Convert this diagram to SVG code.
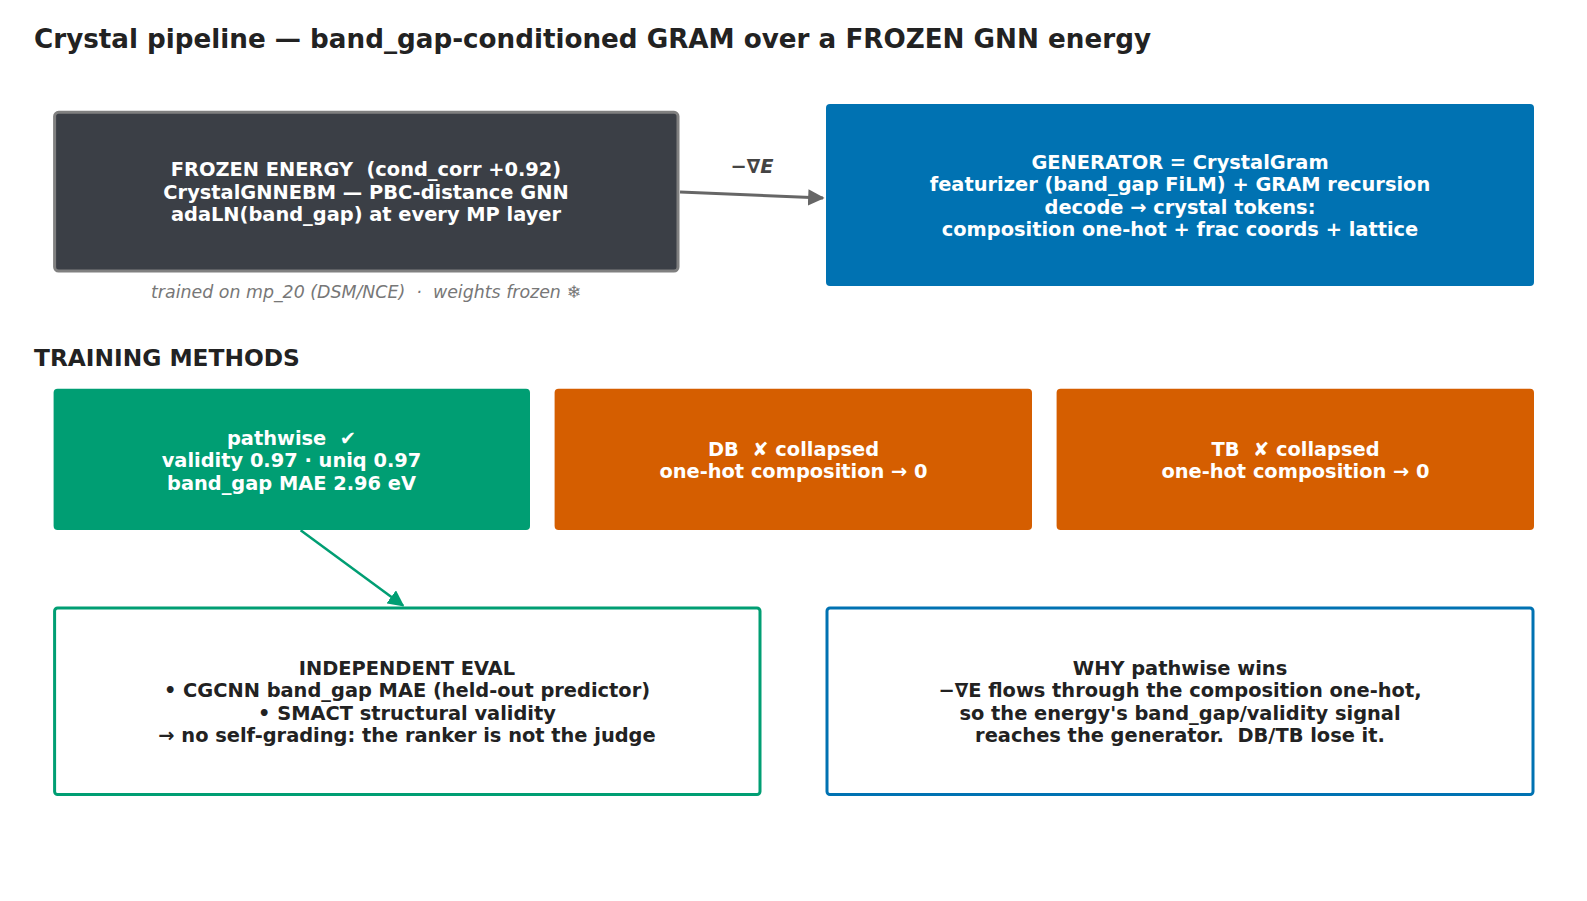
<svg xmlns="http://www.w3.org/2000/svg" width="1587" height="901" viewBox="0 0 1587 901">
<defs>
<style>
text{font-family:"DejaVu Sans","Liberation Sans",sans-serif;font-weight:bold;text-anchor:middle;white-space:pre}
.t{font-size:26.2px;fill:#222;text-anchor:start}
.h{font-size:23.3px;fill:#222;text-anchor:start}
.w{font-size:19.4px;fill:#fff}
.k{font-size:19.4px;fill:#222}
.cap{font-size:17.4px;font-weight:normal;font-style:italic;fill:#777}
.lab{font-size:19.4px;font-style:italic;fill:#444}
</style>
<marker id="ag" viewBox="0 0 10 10" refX="9" refY="5" markerWidth="5.5" markerHeight="5.5" orient="auto"><path d="M0,0 L10,5 L0,10 z" fill="#666"/></marker>
<marker id="agr" viewBox="0 0 10 10" refX="9" refY="5" markerWidth="6.5" markerHeight="6.5" orient="auto"><path d="M0,0 L10,5 L0,10 z" fill="#009e73"/></marker>
</defs>
<rect width="1587" height="901" fill="#fff"/>
<text class="t" x="34" y="48">Crystal pipeline — band_gap-conditioned GRAM over a FROZEN GNN energy</text>
<text class="h" x="34" y="366">TRAINING METHODS</text>
<g id="connectors">
<line x1="680" y1="192" x2="823" y2="198" stroke="#666" stroke-width="3" marker-end="url(#ag)"/>
<text class="lab" x="752" y="173">−∇E</text>
<line x1="300.6" y1="530.3" x2="403" y2="605.5" stroke="#009e73" stroke-width="2.5" marker-end="url(#agr)"/>
</g>
<g id="frozen">
<rect x="54.6" y="112.3" width="623.4" height="158.7" rx="4" fill="#3b3f46" stroke="#808080" stroke-width="3"/>
<text class="w" x="366" y="176">FROZEN ENERGY  (cond_corr +0.92)</text>
<text class="w" x="366" y="198.5">CrystalGNNEBM — PBC-distance GNN</text>
<text class="w" x="366" y="220.8">adaLN(band_gap) at every MP layer</text>
<text class="cap" x="366" y="298">trained on mp_20 (DSM/NCE)  ·  weights frozen ❄</text>
</g>
<g id="generator">
<rect x="826" y="104" width="708" height="182" rx="4" fill="#0072b2"/>
<text class="w" x="1180" y="169">GENERATOR = CrystalGram</text>
<text class="w" x="1180" y="191.3">featurizer (band_gap FiLM) + GRAM recursion</text>
<text class="w" x="1180" y="213.6">decode → crystal tokens:</text>
<text class="w" x="1180" y="236">composition one-hot + frac coords + lattice</text>
</g>
<g id="pathwise">
<rect x="53.6" y="388.7" width="476.4" height="141.3" rx="4" fill="#009e73"/>
<text class="w" x="291.5" y="445">pathwise  ✔</text>
<text class="w" x="291.5" y="467.4">validity 0.97 · uniq 0.97</text>
<text class="w" x="291.5" y="489.8">band_gap MAE 2.96 eV</text>
</g>
<g id="db">
<rect x="554.6" y="388.7" width="477.4" height="141.3" rx="4" fill="#d55e00"/>
<text class="w" x="793.5" y="455.5">DB  ✘ collapsed</text>
<text class="w" x="793.5" y="477.8">one-hot composition → 0</text>
</g>
<g id="tb">
<rect x="1056.6" y="388.7" width="477.4" height="141.3" rx="4" fill="#d55e00"/>
<text class="w" x="1295.5" y="455.5">TB  ✘ collapsed</text>
<text class="w" x="1295.5" y="477.8">one-hot composition → 0</text>
</g>
<g id="eval">
<rect x="54.6" y="608" width="705.4" height="186.5" rx="3" fill="#fff" stroke="#009e73" stroke-width="3"/>
<text class="k" x="407" y="675">INDEPENDENT EVAL</text>
<text class="k" x="407" y="697.3">• CGCNN band_gap MAE (held-out predictor)</text>
<text class="k" x="407" y="719.6">• SMACT structural validity</text>
<text class="k" x="407" y="742">→ no self-grading: the ranker is not the judge</text>
</g>
<g id="why">
<rect x="827" y="608" width="706" height="186.5" rx="3" fill="#fff" stroke="#0072b2" stroke-width="3"/>
<text class="k" x="1180" y="675">WHY pathwise wins</text>
<text class="k" x="1180" y="697.3">−∇E flows through the composition one-hot,</text>
<text class="k" x="1180" y="719.6">so the energy's band_gap/validity signal</text>
<text class="k" x="1180" y="742">reaches the generator.  DB/TB lose it.</text>
</g>
</svg>
